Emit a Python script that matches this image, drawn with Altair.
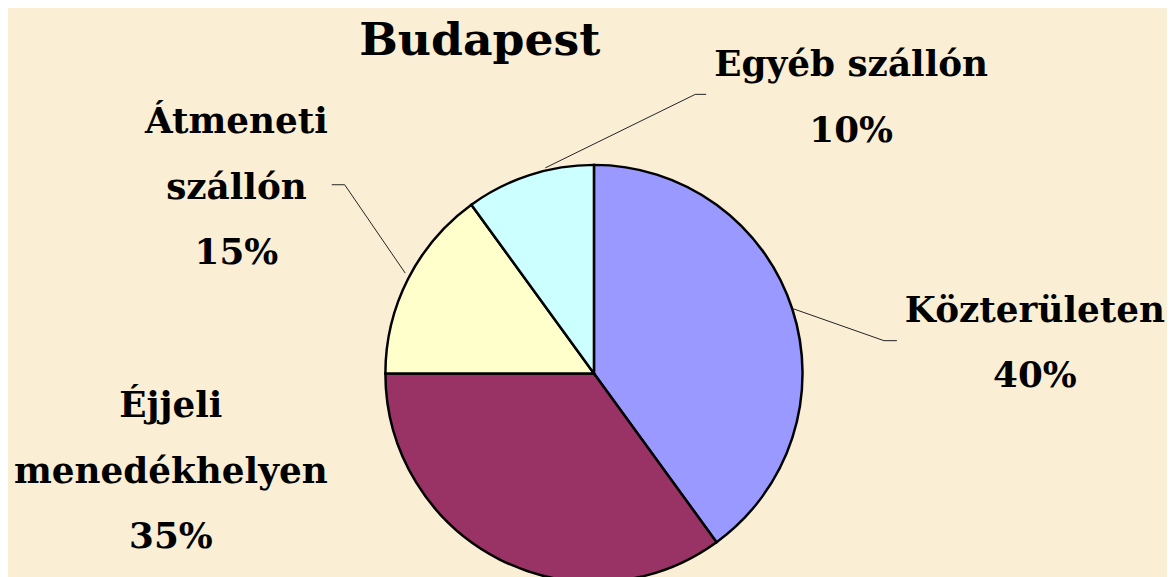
import altair as alt
import pandas as pd

categories = ["Közterületen", "Éjjeli menedékhelyen", "Átmeneti szállón", "Egyéb szállón"]
values = [40, 35, 15, 10]
colors = ["#9999FF", "#993366", "#FFFFCC", "#CCFFFF"]
label_texts = ["Közterületen\n40%", "Éjjeli\nmenedékhelyen\n35%", "Átmeneti\nszállón\n15%", "Egyéb szállón\n10%"]
title_text = "Budapest"

W, H = 1167, 569
CX, CY, R = 590, 366, 210
FONT = "DejaVu Serif"
BG = "#FAEED4"

df = pd.DataFrame({"cat": categories, "val": values, "idx": list(range(len(categories)))})

pie = alt.Chart(df).mark_arc(stroke="black", strokeWidth=2.5, radius=R).encode(
    theta=alt.Theta("val:Q", stack=True),
    order=alt.Order("idx:Q"),
    color=alt.Color("cat:N", scale=alt.Scale(domain=categories, range=colors), legend=None),
    x=alt.value(CX),
    y=alt.value(CY),
)

# label anchor positions (layout), one per category
label_pos = {
    "Közterületen": (1034, 314),
    "Éjjeli menedékhelyen": (164, 410),
    "Átmeneti szállón": (230, 124),
    "Egyéb szállón": (849, 67),
}

layers = [pie]
for cat, txt in zip(categories, label_texts):
    lx, ly = label_pos[cat]
    layers.append(
        alt.Chart(pd.DataFrame({"t": [txt]})).mark_text(
            font=FONT, fontWeight="bold", fontSize=36, align="center",
            baseline="alphabetic", lineBreak="\n", lineHeight=66, color="black",
        ).encode(text="t:N", x=alt.value(lx), y=alt.value(ly))
    )

# leader lines (layout)
leaders = [
    [(541, 159), (692, 85), (703, 85)],
    [(326, 176), (339, 176), (400, 265)],
    [(791, 301), (882, 333), (895, 333)],
]
for pts in leaders:
    for (x1, y1), (x2, y2) in zip(pts[:-1], pts[1:]):
        layers.append(
            alt.Chart(pd.DataFrame({"a": [0]})).mark_rule(color="#222222", strokeWidth=1).encode(
                x=alt.value(x1), y=alt.value(y1), x2=alt.value(x2), y2=alt.value(y2)
            )
        )

layers.append(
    alt.Chart(pd.DataFrame({"t": [title_text]})).mark_text(
        font=FONT, fontWeight="bold", fontSize=46, align="center", baseline="alphabetic", color="black"
    ).encode(text="t:N", x=alt.value(475), y=alt.value(45))
)

chart = alt.layer(*layers).properties(
    width=W, height=H, background=BG, padding=0, autosize=alt.AutoSizeParams(type="none")
).configure_view(stroke=None)

chart.save("out.html", embed_options={"renderer": "svg", "actions": False})
